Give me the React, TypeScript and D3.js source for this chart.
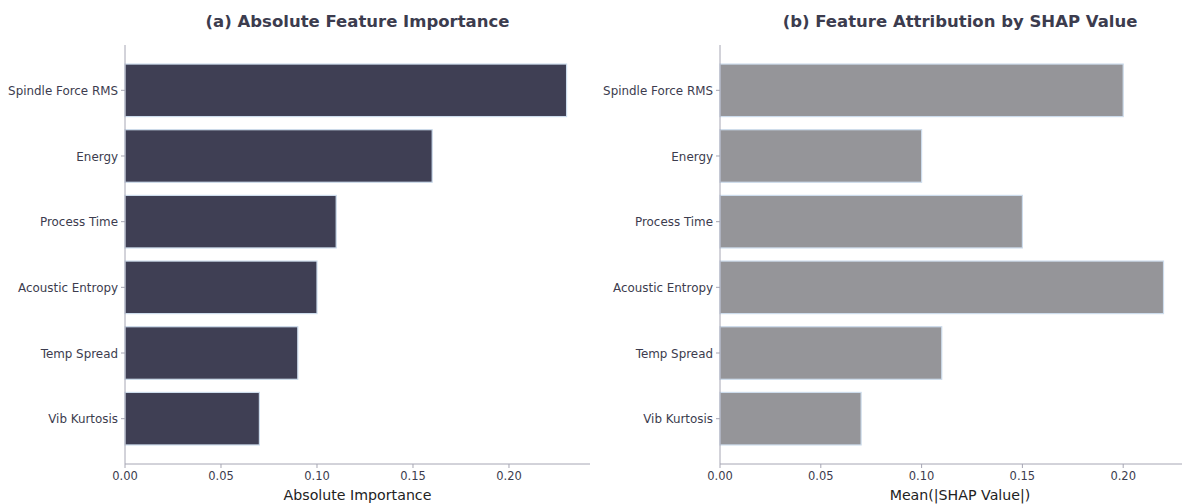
import React from "react";
import * as d3 from "d3";

const features = ["Spindle Force RMS", "Energy", "Process Time", "Acoustic Entropy", "Temp Spread", "Vib Kurtosis"];
const importanceValues = [0.23, 0.16, 0.11, 0.10, 0.09, 0.07];
const shapValues = [0.20, 0.10, 0.15, 0.22, 0.11, 0.07];
const xTicks = [0, 0.05, 0.1, 0.15, 0.2];

const W = 1182;
const H = 504;
const TOP = 45;
const BOTTOM = 464;
const FONT = "'DejaVu Sans', sans-serif";
const TEXT = "#3c3c4e";
const SPINE = "#a6a6b4";

type PanelProps = {
  x0: number;
  x1: number;
  xMax: number;
  values: number[];
  fill: string;
  title: string;
  xLabel: string;
};

function Panel({ x0, x1, xMax, values, fill, title, xLabel }: PanelProps) {
  const x = d3.scaleLinear().domain([0, xMax]).range([x0, x1]);
  const y = d3.scaleLinear().domain([-0.69, 5.69]).range([TOP, BOTTOM]);
  const bh = y(0.4) - y(-0.4);
  return (
    <g>
      <text x={(x0 + x1) / 2} y={27} textAnchor="middle" fontFamily={FONT} fontWeight="bold" fontSize={16.5} fill={TEXT}>
        {title}
      </text>
      {values.map((v, i) => (
        <rect key={i} x={x(0)} y={y(i) - bh / 2} width={x(v) - x(0)} height={bh} fill={fill} stroke="#cddcec" strokeWidth={1.2} />
      ))}
      <line x1={x0} x2={x0} y1={TOP} y2={BOTTOM} stroke={SPINE} strokeWidth={1} />
      <line x1={x0} x2={x1} y1={BOTTOM} y2={BOTTOM} stroke={SPINE} strokeWidth={1} />
      {features.map((f, i) => (
        <g key={f}>
          <line x1={x0 - 4} x2={x0} y1={y(i)} y2={y(i)} stroke={SPINE} />
          <text x={x0 - 7} y={y(i) + 0.5} dy="0.35em" textAnchor="end" fontFamily={FONT} fontSize={11.9} fill={TEXT}>
            {f}
          </text>
        </g>
      ))}
      {xTicks.map((t) => (
        <g key={t}>
          <line x1={x(t)} x2={x(t)} y1={BOTTOM} y2={BOTTOM + 4} stroke={SPINE} />
          <text x={x(t)} y={BOTTOM + 16} textAnchor="middle" fontFamily={FONT} fontSize={11.5} fill={TEXT}>
            {d3.format(".2f")(t)}
          </text>
        </g>
      ))}
      <text x={(x0 + x1) / 2} y={BOTTOM + 36} textAnchor="middle" fontFamily={FONT} fontSize={14.2} fill="#222">
        {xLabel}
      </text>
    </g>
  );
}

export default function App() {
  return (
    <svg width={W} height={H} style={{ position: "absolute", left: 0, top: 0 }}>
      <rect width={W} height={H} fill="#fff" />
      <Panel x0={125} x1={590} xMax={0.2422} values={importanceValues} fill="#3f3f54" title="(a) Absolute Feature Importance" xLabel="Absolute Importance" />
      <Panel x0={720} x1={1200} xMax={0.2381} values={shapValues} fill="#959599" title="(b) Feature Attribution by SHAP Value" xLabel="Mean(|SHAP Value|)" />
    </svg>
  );
}
